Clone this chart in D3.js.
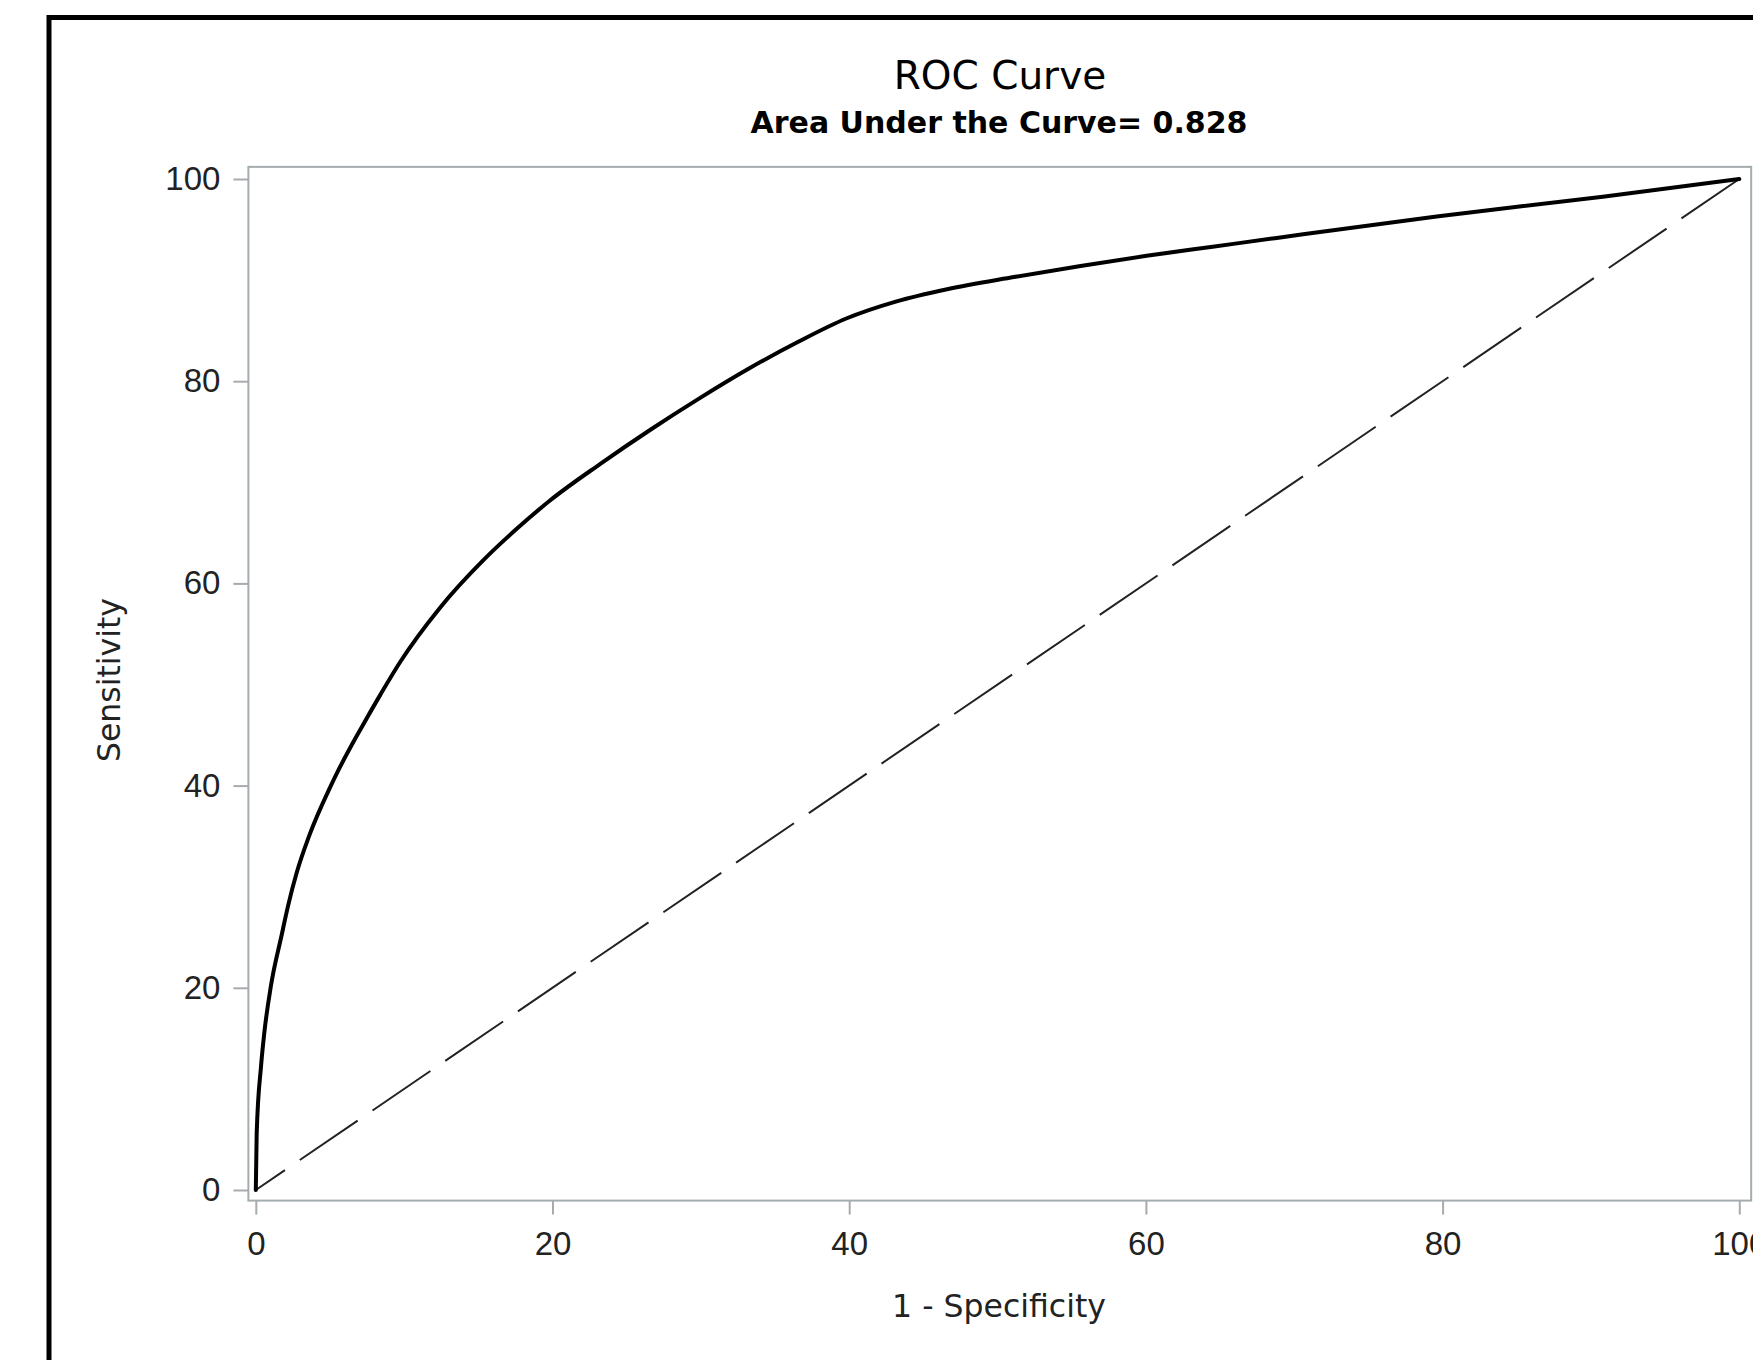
<!DOCTYPE html>
<html lang="en">
<head>
    <meta charset="UTF-8">
    <title>ROC Curve</title>
    <style>
        body {
            margin: 0;
            background-color: #fff;
        }
        svg {
            display: block;
        }
    </style>
</head>
<body>
    <script src="https://cdnjs.cloudflare.com/ajax/libs/d3/7.8.5/d3.min.js"></script>
<script>
    // ROC points: 1 - specificity (%) and sensitivity (%)
    const fpr = [0, 0.06, 0.35, 0.57, 1.02, 1.74, 2.19, 2.76, 3.59, 5.0, 5.56, 6.8, 7.3, 8.4, 9.72,
        12.42, 15.34, 17.59, 19.83, 23.2, 26.6, 29.9, 33.3, 36.7, 39.8, 43.2, 46.6, 51.1, 55.6,
        60.05, 64.5, 68.7, 79.6, 90.8, 100]
    const tpr = [0, 5.6, 12.2, 15.5, 20.2, 25.2, 28.2, 31.4, 35.0, 39.8, 41.5, 44.9, 46.2, 49.0, 52.2,
        57.6, 62.3, 65.4, 68.2, 71.8, 75.2, 78.3, 81.3, 84.0, 86.2, 87.9, 89.1, 90.3, 91.4,
        92.4, 93.3, 94.15, 96.3, 98.25, 100]
    // chance line, drawn from the top end so the dashes start there
    const diagonal = [[100, 100], [0, 0]]

    const xTicks = [0, 20, 40, 60, 80, 100]
    const yTicks = [0, 20, 40, 60, 80, 100]

    const title = "ROC Curve"
    const subtitle = "Area Under the Curve= 0.828"
    const xLabel = "1 - Specificity"
    const yLabel = "Sensitivity"

    const width = 1753
    const height = 1360
    const frameColor = "#a5acaf"

    const svg = d3.select("body").append("svg")
        .attr("width", width)
        .attr("height", height)

    const x = d3.scaleLinear().domain([0, 100]).range([255.8, 1739.3])
    const y = d3.scaleLinear().domain([0, 100]).range([1190, 179])

    // outer border of the graph (runs off the right and bottom edge)
    svg.append("rect")
        .attr("x", 49)
        .attr("y", 17.5)
        .attr("width", 1800)
        .attr("height", 1500)
        .attr("fill", "none")
        .attr("stroke", "#000")
        .attr("stroke-width", 5)

    // plot frame, a little padding around the data range
    const fx0 = x(-0.5), fx1 = x(100.8)
    const fy0 = y(101.2), fy1 = y(-1.05)
    svg.append("rect")
        .attr("x", fx0)
        .attr("y", fy0)
        .attr("width", fx1 - fx0)
        .attr("height", fy1 - fy0)
        .attr("fill", "none")
        .attr("stroke", frameColor)
        .attr("stroke-width", 2)

    const xAxis = svg.append("g")
        .attr("transform", `translate(0,${fy1})`)
        .call(d3.axisBottom(x).tickValues(xTicks).tickSize(14).tickPadding(17).tickFormat(d3.format("d")))
    const yAxis = svg.append("g")
        .attr("transform", `translate(${fx0},0)`)
        .call(d3.axisLeft(y).tickValues(yTicks).tickSize(15).tickPadding(13).tickFormat(d3.format("d")))

    for (const ax of [xAxis, yAxis]) {
        ax.select(".domain").remove()
        ax.selectAll(".tick line")
            .attr("stroke", frameColor)
            .attr("stroke-width", 2)
        ax.selectAll(".tick text")
            .attr("fill", "#222")
            .style("font-family", "'Liberation Sans', Arial, sans-serif")
            .style("font-size", "33px")
    }

    // reference diagonal
    svg.append("path")
        .datum(diagonal)
        .attr("d", d3.line().x(d => x(d[0])).y(d => y(d[1])))
        .attr("fill", "none")
        .attr("stroke", "#222")
        .attr("stroke-width", 2)
        .attr("stroke-dasharray", "70,18")

    // ROC curve
    const rocData = fpr.map((v, i) => [v, tpr[i]])
    svg.append("path")
        .datum(rocData)
        .attr("d", d3.line().x(d => x(d[0])).y(d => y(d[1])).curve(d3.curveMonotoneX))
        .attr("fill", "none")
        .attr("stroke", "#000")
        .attr("stroke-width", 4)
        .attr("stroke-linejoin", "round")
        .attr("stroke-linecap", "round")

    // titles
    svg.append("text")
        .attr("x", 1000)
        .attr("y", 89.3)
        .attr("text-anchor", "middle")
        .style("font-family", "'DejaVu Sans', sans-serif")
        .style("font-size", "39px")
        .text(title)

    svg.append("text")
        .attr("x", 999)
        .attr("y", 133)
        .attr("text-anchor", "middle")
        .style("font-family", "'DejaVu Sans', sans-serif")
        .style("font-size", "30px")
        .style("font-weight", "bold")
        .text(subtitle)

    // axis labels
    svg.append("text")
        .attr("x", 999)
        .attr("y", 1316.7)
        .attr("text-anchor", "middle")
        .attr("fill", "#222")
        .style("font-family", "'DejaVu Sans', sans-serif")
        .style("font-size", "31.5px")
        .text(xLabel)

    svg.append("text")
        .attr("transform", "translate(120,680) rotate(-90)")
        .attr("text-anchor", "middle")
        .attr("fill", "#222")
        .style("font-family", "'DejaVu Sans', sans-serif")
        .style("font-size", "31.5px")
        .text(yLabel)
</script>
</body>
</html>
